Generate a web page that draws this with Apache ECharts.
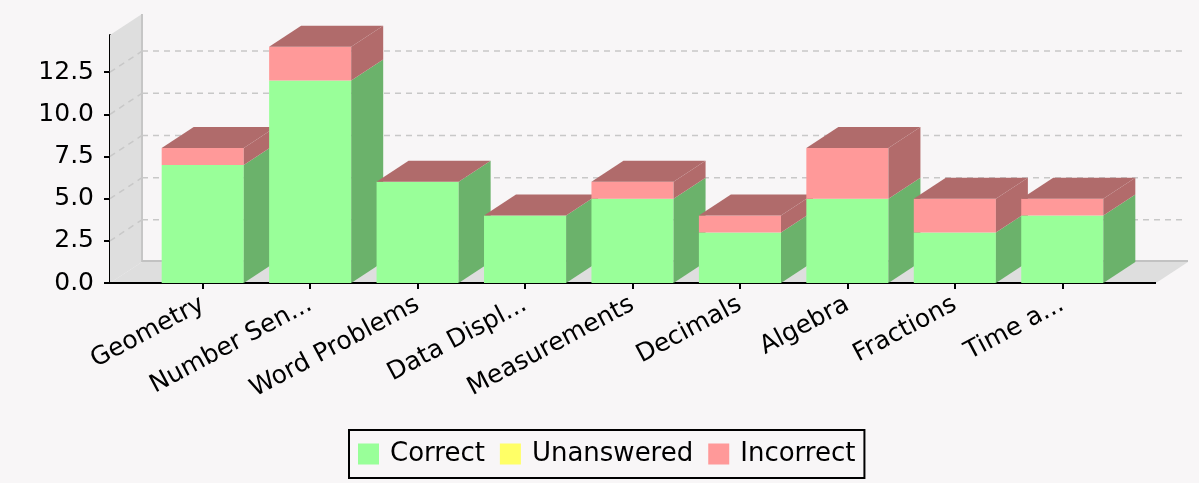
<!DOCTYPE html>
<html>
<head>
<meta charset="utf-8">
<script src="https://cdn.jsdelivr.net/npm/echarts@6/dist/echarts.min.js"></script>
<style>
  html, body { margin: 0; padding: 0; background: #f8f6f7; }
  #main { width: 1199px; height: 483px; }
</style>
</head>
<body>
<div id="main"></div>
<script>
// 数据
var categories = ['Geometry', 'Number Sen...', 'Word Problems', 'Data Displ...', 'Measurements', 'Decimals', 'Algebra', 'Fractions', 'Time a...'];
var correct = [7, 12, 6, 4, 5, 3, 5, 3, 4];
var unanswered = [0, 0, 0, 0, 0, 0, 0, 0, 0];
var incorrect = [1, 2, 0, 0, 1, 1, 3, 2, 1];
var seriesNames = ['Correct', 'Unanswered', 'Incorrect'];
var yTicks = [0, 2.5, 5, 7.5, 10, 12.5];

// 颜色 (正面 / 侧面)
var frontColors = ['#99ff99', '#ffff66', '#ff9999'];
var sideColors = ['#6bb26b', '#b2b247', '#b26b6b'];
var topColor = '#b06b6b';
var dx = 32, dy = 21; // 3D深度
var fontName = 'DejaVu Sans';

var myChart = echarts.init(document.getElementById('main'));

var barData = [];
for (var i = 0; i < categories.length; i++) {
    barData.push([i, correct[i], unanswered[i], incorrect[i]]);
}

// 背景墙 + 网格线 + 坐标轴
function renderWall(params, api) {
    var cs = params.coordSys;
    var L = cs.x - 39, B = cs.y + cs.height, T = cs.y;
    var R = cs.x + cs.width + 40;
    var children = [];
    children.push({
        type: 'polygon',
        shape: { points: [[L, B], [L, T], [L + dx, T - dy], [L + dx, B - dy]] },
        style: { fill: '#dedede' }
    });
    children.push({
        type: 'polygon',
        shape: { points: [[L, B], [L + dx, B - dy], [R + dx, B - dy], [R, B]] },
        style: { fill: '#dedede' }
    });
    children.push({
        type: 'line',
        shape: { x1: L + dx, y1: T - dy, x2: L + dx, y2: B - dy },
        style: { stroke: '#c6c6c6', lineWidth: 2 }
    });
    children.push({
        type: 'line',
        shape: { x1: L + dx, y1: B - dy - 1, x2: R + dx, y2: B - dy - 1 },
        style: { stroke: '#c2c2c2', lineWidth: 2 }
    });
    for (var k = 1; k < yTicks.length; k++) {
        var y = api.coord([0, yTicks[k]])[1];
        children.push({
            type: 'line',
            shape: { x1: L, y1: y, x2: L + dx, y2: y - dy },
            style: { stroke: '#c8c8c8', lineWidth: 1.5, lineDash: [6, 5] }
        });
        children.push({
            type: 'line',
            shape: { x1: L + dx, y1: y - dy, x2: R + dx - 6, y2: y - dy },
            style: { stroke: '#c8c8c8', lineWidth: 1.5, lineDash: [6, 5] }
        });
    }
    children.push({
        type: 'line',
        shape: { x1: L, y1: B, x2: R, y2: B },
        style: { stroke: '#000', lineWidth: 2 }
    });
    return { type: 'group', children: children };
}

// 堆叠3D柱
function renderBar(params, api) {
    var idx = api.value(0);
    var vals = [api.value(1), api.value(2), api.value(3)];
    var w = api.size([1, 0])[0] * 0.764;
    var cx = api.coord([idx, 0])[0];
    var x1 = cx - w / 2, x2 = cx + w / 2;
    var cum = 0;
    var children = [];
    for (var k = 0; k < vals.length; k++) {
        var yb = api.coord([idx, cum])[1];
        cum += vals[k];
        var yt = api.coord([idx, cum])[1];
        if (yb - yt <= 0) continue;
        children.push({
            type: 'rect',
            shape: { x: x1, y: yt, width: w, height: yb - yt },
            style: { fill: frontColors[k] }
        });
        children.push({
            type: 'polygon',
            shape: { points: [[x2, yb], [x2, yt], [x2 + dx, yt - dy], [x2 + dx, yb - dy]] },
            style: { fill: sideColors[k] }
        });
    }
    var ytop = api.coord([idx, cum])[1];
    children.push({
        type: 'polygon',
        shape: { points: [[x1, ytop], [x1 + dx, ytop - dy], [x2 + dx, ytop - dy], [x2, ytop]] },
        style: { fill: topColor }
    });
    return { type: 'group', children: children };
}

var option = {
    backgroundColor: '#f8f6f7',
    animation: false,
    textStyle: { fontFamily: fontName },
    grid: { left: 149, top: 35, width: 967, height: 248 },
    legend: {
        data: seriesNames,
        bottom: 5,
        left: 349,
        icon: 'rect',
        itemWidth: 21,
        itemHeight: 21,
        itemGap: 15,
        borderColor: '#000',
        borderWidth: 2,
        borderRadius: 0,
        padding: [11, 9, 11, 9],
        selectedMode: false,
        textStyle: { fontSize: 26, color: '#000', fontFamily: fontName, padding: [0, 0, 0, 6] }
    },
    xAxis: {
        type: 'category',
        data: categories,
        axisLine: { show: false },
        axisTick: { show: true, alignWithLabel: true, length: 6, lineStyle: { color: '#000', width: 2 } },
        axisLabel: { interval: 0, rotate: 28, fontSize: 25, color: '#000', margin: 20, fontFamily: fontName },
        splitLine: { show: false }
    },
    yAxis: {
        type: 'value',
        min: 0,
        max: 14.7,
        interval: 2.5,
        offset: 39,
        axisLine: { show: true, lineStyle: { color: '#000', width: 2 } },
        axisTick: { show: true, length: 6, customValues: yTicks, lineStyle: { color: '#000', width: 2 } },
        axisLabel: {
            fontSize: 25, color: '#000', margin: 16, fontFamily: fontName,
            customValues: yTicks,
            formatter: function (v) { return (v % 2.5 === 0) ? v.toFixed(1) : ''; }
        },
        splitLine: { show: false }
    },
    series: [
        { type: 'custom', name: 'wall', renderItem: renderWall, data: [[0, 0]], clip: false, silent: true, z: 1 },
        { type: 'custom', name: 'bars', renderItem: renderBar, data: barData, clip: false, z: 2,
          encode: { x: 0, y: [1, 2, 3] } },
        { type: 'bar', name: seriesNames[0], data: [], itemStyle: { color: frontColors[0] } },
        { type: 'bar', name: seriesNames[1], data: [], itemStyle: { color: frontColors[1] } },
        { type: 'bar', name: seriesNames[2], data: [], itemStyle: { color: frontColors[2] } }
    ]
};

myChart.setOption(option);
</script>
</body>
</html>
